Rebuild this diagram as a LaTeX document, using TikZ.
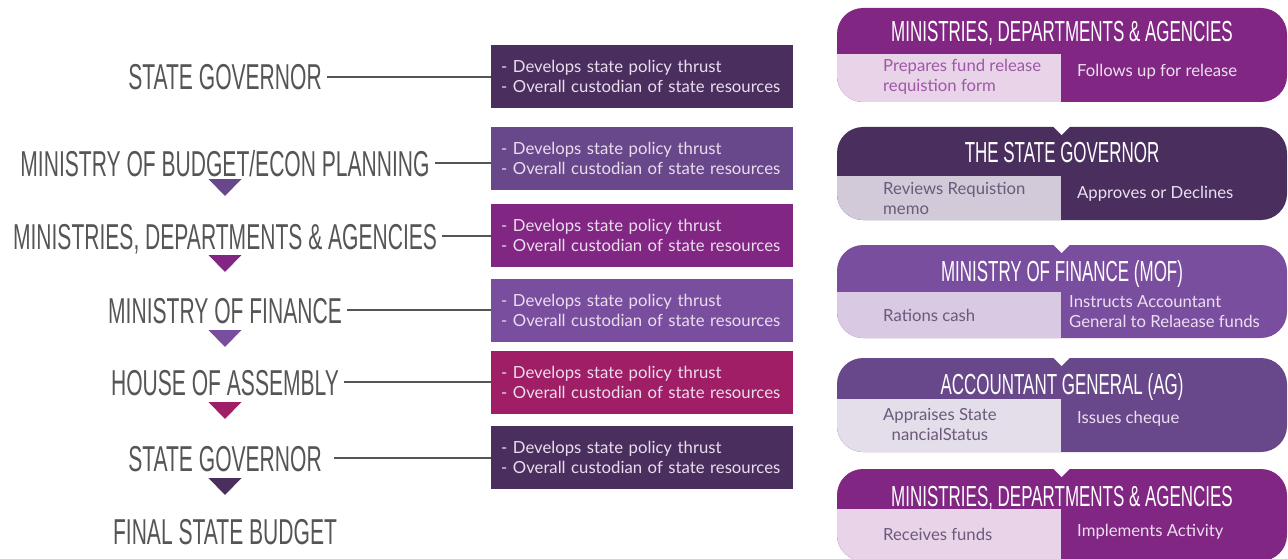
\documentclass[tikz,border=0pt]{standalone}
\usepackage{fontspec}
\setmainfont{Lato}
\newfontfamily\headfont[FakeStretch=0.585]{Liberation Sans}
\usetikzlibrary{calc}

\definecolor{gov}{HTML}{4A2F5E}
\definecolor{bud}{HTML}{68478A}
\definecolor{mda}{HTML}{822683}
\definecolor{mof}{HTML}{7A4E9F}
\definecolor{hoa}{HTML}{A01E66}
\definecolor{labelgray}{HTML}{555555}
\definecolor{boxtext}{HTML}{EADDEE}
\definecolor{cardlight}{HTML}{ECDFF0}
\definecolor{mdatint}{HTML}{E9D3E9}
\definecolor{govtint}{HTML}{D2CAD9}
\definecolor{moftint}{HTML}{D9C9E3}
\definecolor{agtint}{HTML}{E3DEEA}
\definecolor{mdaink}{HTML}{9E58A6}
\definecolor{tintink}{HTML}{6B5A7B}

\newcommand\bodyfont{\fontsize{16.7}{20}\selectfont}

% one process card: top, band bottom, bottom, heading colour, tint colour
\newcommand\processcard[5]{%
  \fill[#4, rounded corners=26pt] (837,#1) rectangle (1287,#3);
  \begin{scope}
    \clip[rounded corners=26pt] (837,#1) rectangle (1287,#3);
    \fill[#5] (837,#2) rectangle (1061,#3+2);
  \end{scope}}
% small V cut into the top edge of a card
\newcommand\cardnotch[1]{%
  \fill[white] (1052.5,#1-1) -- (1070.5,#1-1) -- (1061.5,#1+8) -- cycle;}

\begin{document}
\begin{tikzpicture}[x=1pt,y=-1pt,
  steplabel/.style={font=\headfont\fontsize{36}{36}\selectfont, text=labelgray,
    inner sep=0pt, text height=26pt, text depth=0pt, anchor=center},
  infobox/.style={fill=#1, anchor=north west, text width=282pt, minimum height=63pt,
    inner xsep=10pt, inner ysep=0pt, align=left, text=boxtext, font=\bodyfont},
  link/.style={draw=labelgray, line width=2pt, shorten <=5pt},
  downmark/.pic={\path[pic actions] (-16.5,0) -- (16.5,0) -- (0,17) -- cycle;},
  cardhead/.style={font=\headfont\fontsize{29}{29}\selectfont, text=white,
    inner sep=0pt, text height=20.5pt, text depth=0pt, anchor=center},
  leftnote/.style={font=\bodyfont, text=#1, align=left, anchor=west, inner sep=0pt},
  rightnote/.style={font=\bodyfont, text=cardlight, align=left, anchor=west, inner sep=0pt}]

\useasboundingbox (0,0) rectangle (1288,559);

% ---------- budget steps ----------
\node[steplabel] (l1) at (225,77)  {STATE GOVERNOR};
\node[steplabel] (l2) at (225,163) {MINISTRY OF BUDGET/ECON PLANNING};
\node[steplabel] (l3) at (225,236) {MINISTRIES, DEPARTMENTS \& AGENCIES};
\node[steplabel] (l4) at (225,310) {MINISTRY OF FINANCE};
\node[steplabel] (l5) at (225,382) {HOUSE OF ASSEMBLY};
\node[steplabel] (l6) at (225,458) {STATE GOVERNOR};
\node[steplabel] (l7) at (225,531) {FINAL STATE BUDGET};

\pic[fill=bud] at (225,179) {downmark};
\pic[fill=mda] at (225,255) {downmark};
\pic[fill=mof] at (225,330) {downmark};
\pic[fill=hoa] at (225,402) {downmark};
\pic[fill=gov] at (225,478) {downmark};

% ---------- role boxes ----------
\node[infobox=gov] (b1) at (491,45)  {- Develops state policy thrust\\- Overall custodian of state resources};
\node[infobox=bud] (b2) at (491,127) {- Develops state policy thrust\\- Overall custodian of state resources};
\node[infobox=mda] (b3) at (491,204) {- Develops state policy thrust\\- Overall custodian of state resources};
\node[infobox=mof] (b4) at (491,279) {- Develops state policy thrust\\- Overall custodian of state resources};
\node[infobox=hoa] (b5) at (491,351) {- Develops state policy thrust\\- Overall custodian of state resources};
\node[infobox=gov] (b6) at (491,426) {- Develops state policy thrust\\- Overall custodian of state resources};

\draw[link] (l1.east) -- (l1.east -| b1.west);
\draw[link] (l2.east) -- (l2.east -| b2.west);
\draw[link] (l3.east) -- (l3.east -| b3.west);
\draw[link] (l4.east) -- (l4.east -| b4.west);
\draw[link] (l5.east) -- (l5.east -| b5.west);
\draw[link, shorten <=12pt] (l6.east) -- (l6.east -| b6.west);

% ---------- fund release cards ----------
\processcard{8}{54}{102}{mda}{mdatint}
\processcard{127}{176}{220}{gov}{govtint}
\processcard{245}{292}{338}{mof}{moftint}
\processcard{358}{399}{452}{bud}{agtint}
\processcard{469}{509}{561}{mda}{mdatint}
\cardnotch{127}
\cardnotch{245}
\cardnotch{358}
\cardnotch{469}

\node[cardhead] (h1) at (1062,31)  {MINISTRIES, DEPARTMENTS \& AGENCIES};
\node[cardhead] (h2) at (1062,152) {THE STATE GOVERNOR};
\node[cardhead] (h3) at (1062,271) {MINISTRY OF FINANCE (MOF)};
\node[cardhead] (h4) at (1062,384) {ACCOUNTANT GENERAL (AG)};
\node[cardhead] (h5) at (1062,496) {MINISTRIES, DEPARTMENTS \& AGENCIES};

\node[leftnote=mdaink]  (p1) at (883,77)  {Prepares fund release\\requistion form};
\node[rightnote]        (q1) at (1077,72) {Follows up for release};
\node[leftnote=tintink] (p2) at (883,198) {Reviews Requistion\\memo};
\node[rightnote]        (q2) at (1077,194) {Approves or Declines};
\node[leftnote=tintink] (p3) at (883,315) {Rations cash};
\node[rightnote]        (q3) at (1069,312) {Instructs Accountant\\General to Relaease funds};
\node[leftnote=tintink, align=center] (p4) at (883,424) {Appraises State\\nancialStatus};
\node[rightnote]        (q4) at (1077,419) {Issues cheque};
\node[leftnote=tintink] (p5) at (883,534) {Receives funds};
\node[rightnote]        (q5) at (1077,532) {Implements Activity};

\end{tikzpicture}
\end{document}
